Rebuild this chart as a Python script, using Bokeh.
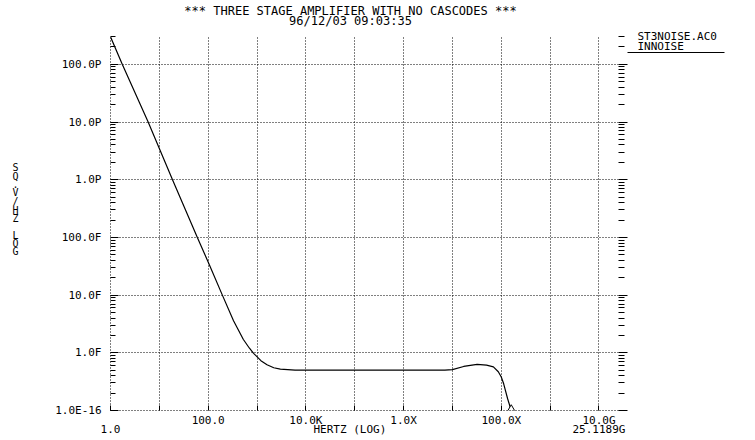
import numpy as np
from bokeh.plotting import figure
from bokeh.models import (Range1d, LogAxis, LinearAxis, LinearScale, FixedTicker,
                          CustomJSTickFormatter)
from bokeh.embed import file_html
from bokeh.resources import INLINE

# ---------------- data ----------------
freq_hz = [1.0, 1.74, 5.9, 18.6, 60.0, 105.0, 195.0, 330.0, 525.0, 700.0,
           850.0, 1.2e3, 1.6e3, 2.2e3, 3.0e3, 6.0e3, 1.0e4, 1.0e5, 1.0e6,
           7.0e6, 1.0e7, 1.7e7, 3.2e7, 5.0e7, 6.9e7, 8.7e7, 1.0e8, 1.12e8,
           1.35e8, 1.6e8]
innoise = [3.0e-10, 1.0e-10, 1.0e-11, 1.0e-12, 1.0e-13, 3.4e-14, 1.0e-14,
           3.6e-15, 1.7e-15, 1.2e-15, 9.8e-16, 7.3e-16, 6.2e-16, 5.5e-16,
           5.2e-16, 5.0e-16, 5.0e-16, 5.0e-16, 5.0e-16, 5.0e-16, 5.1e-16,
           5.8e-16, 6.3e-16, 6.1e-16, 5.7e-16, 4.7e-16, 3.8e-16, 2.9e-16,
           1.6e-16, 1.0e-16]

x_major = [1e0, 1e1, 1e2, 1e3, 1e4, 1e5, 1e6, 1e7, 1e8, 1e9, 1e10]
x_tick_labels = ["", "", "100.0", "", "10.0K", "", "1.0X", "", "100.0X", "", "10.0G"]
x_row2_labels = ["1.0", "HERTZ (LOG)", "25.1189G"]

y_major = [1e-16, 1e-15, 1e-14, 1e-13, 1e-12, 1e-11, 1e-10]
y_tick_labels = ["1.0E-16", "1.0F", "10.0F", "100.0F", "1.0P", "10.0P", "100.0P"]
y_minor = [m * 10.0 ** k for k in range(-16, -9) for m in range(2, 10)]

title_text = "*** THREE STAGE AMPLIFIER WITH NO CASCODES ***\n96/12/03 09:03:35"
y_axis_chars = ["S", "Q", ".", "V", "/", "H", "Z", "L", "O", "G"]
legend_labels = ["INNOISE", "ST3NOISE.AC0"]

# ---------------- layout constants ----------------
W, H = 755, 440
X_LO, X_HI = 1.0, 10 ** 10.4
Y_LO, Y_HI = 1e-16, 10 ** -9.5
FL, FR, FT, FB = 110, 618, 30, 410
FONT = "DejaVu Sans Mono"
FS = "11px"
X_ROW2_AT = [X_LO, 10 ** 4.9, 1e10]            # 2nd text row under the x axis
Y_CHAR_ROWS = [164, 173, 181, 189, 198, 207, 215, 233, 241, 249]   # pixel rows
LEGEND_TEXT_AT = [2e-10, 3e-10]                # legend text rows (top right)
LEGEND_LINE_Y = 1.6e-10                        # legend sample-line row
TITLE_AT = 350                                 # pixel column of title centre

p = figure(width=W, height=H, x_axis_type="log", y_axis_type="log",
           x_range=Range1d(X_LO, X_HI), y_range=Range1d(Y_LO, Y_HI),
           output_backend="svg", toolbar_location=None,
           min_border_left=FL, min_border_right=W - FR,
           min_border_top=FT, min_border_bottom=H - FB)
p.outline_line_color = None
p.background_fill_color = "white"
p.border_fill_color = "white"
# pixel-unit helper ranges for texts placed in the margins
p.extra_x_ranges = {"px": Range1d(FL, FR)}
p.extra_x_scales = {"px": LinearScale()}
p.extra_y_ranges = {"px": Range1d(FB, FT)}
p.extra_y_scales = {"px": LinearScale()}

# grids
p.xgrid.ticker = FixedTicker(ticks=x_major)
p.ygrid.ticker = FixedTicker(ticks=y_major)
for g in (p.xgrid[0], p.ygrid[0]):
    g.grid_line_color = "black"
    g.grid_line_dash = "1 2"
    g.grid_line_width = 1


def idx_fmt(labels):
    return CustomJSTickFormatter(args=dict(labs=labels),
                                 code="const s = labs[index]; return (s === undefined) ? '' : s;")


def text_only(axis, size=FS):
    axis.axis_line_color = None
    axis.major_tick_line_color = None
    axis.minor_tick_line_color = None
    axis.major_tick_in = 0
    axis.major_tick_out = 0
    axis.minor_tick_in = 0
    axis.minor_tick_out = 0
    axis.major_label_text_font = FONT
    axis.major_label_text_font_size = size
    axis.major_label_text_color = "black"
    return axis


# left axis
ya = p.yaxis[0]
ya.ticker = FixedTicker(ticks=y_major, minor_ticks=y_minor)
ya.formatter = idx_fmt(y_tick_labels)
ya.axis_line_color = "black"
ya.axis_line_dash = "1 2"
ya.major_tick_in = 8
ya.major_tick_out = 0
ya.minor_tick_in = 5
ya.minor_tick_out = 0
ya.major_tick_line_color = "black"
ya.minor_tick_line_color = "black"
ya.major_label_standoff = 9
ya.major_label_text_font = FONT
ya.major_label_text_font_size = FS
ya.major_label_text_color = "black"

# stacked y-axis title characters (second left axis, pixel rows)
yl = text_only(LinearAxis(y_range_name="px", ticker=FixedTicker(ticks=Y_CHAR_ROWS, minor_ticks=[]),
                          formatter=idx_fmt(y_axis_chars), bounds=(150, 300),
                          major_label_standoff=34), size="10px")
p.add_layout(yl, "left")

# bottom axis, first text row
xa = p.xaxis[0]
xa.ticker = FixedTicker(ticks=x_major, minor_ticks=[])
xa.formatter = idx_fmt(x_tick_labels)
xa.axis_line_color = "black"
xa.axis_line_dash = "1 2"
xa.major_tick_in = 5
xa.major_tick_out = 0
xa.major_tick_line_color = "black"
xa.minor_tick_line_color = None
xa.major_label_standoff = 3
xa.major_label_text_font = FONT
xa.major_label_text_font_size = FS
xa.major_label_text_color = "black"

# bottom, second text row
xb = text_only(LogAxis(ticker=FixedTicker(ticks=X_ROW2_AT, minor_ticks=[]),
                       formatter=idx_fmt(x_row2_labels), major_label_standoff=-7))
p.add_layout(xb, "below")

# top: two title lines
xt = text_only(LinearAxis(x_range_name="px", ticker=FixedTicker(ticks=[TITLE_AT], minor_ticks=[]),
                          formatter=idx_fmt([title_text]), major_label_standoff=8), size="12px")
xt.major_label_text_line_height = 0.7
p.add_layout(xt, "above")

# right axis: detached tick marks only
ra = LogAxis(ticker=FixedTicker(ticks=y_major, minor_ticks=y_minor),
             formatter=CustomJSTickFormatter(code="return '';"),
             axis_line_color=None, major_tick_in=0, major_tick_out=9,
             minor_tick_in=0, minor_tick_out=6, major_label_standoff=0,
             major_tick_line_color="black", minor_tick_line_color="black")
p.add_layout(ra, "right")

# right: legend texts, with the legend sample line drawn as a long minor tick
rl = LogAxis(ticker=FixedTicker(ticks=LEGEND_TEXT_AT, minor_ticks=[LEGEND_LINE_Y]),
             formatter=idx_fmt(legend_labels),
             axis_line_color=None, major_tick_line_color=None,
             major_tick_in=0, major_tick_out=0, minor_tick_in=0, minor_tick_out=97,
             minor_tick_line_color="black", minor_tick_line_width=1,
             major_label_standoff=-87,
             major_label_text_font=FONT, major_label_text_font_size=FS,
             major_label_text_color="black")
rl.major_label_text_align = "left"
p.add_layout(rl, "right")

# curve
p.line(freq_hz, innoise, line_color="black", line_width=1.2)

# end-of-curve triangle marker
p.scatter([freq_hz[-1]], [innoise[-1]], marker="triangle", size=10,
          fill_color="white", line_color="black", line_width=1)

open("out.html", "w").write(file_html(p, INLINE))
